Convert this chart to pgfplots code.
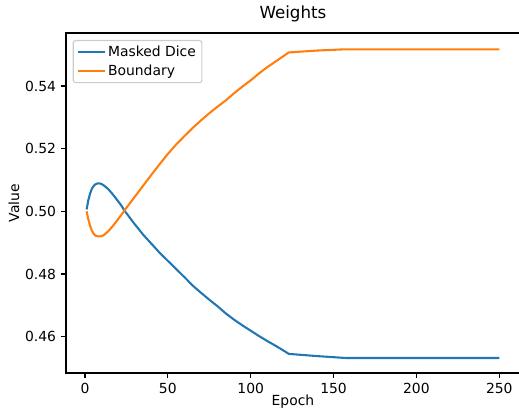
\documentclass[border=0pt]{standalone}
\usepackage{fontspec}
\setmainfont{DejaVu Sans}
\usepackage{pgfplots}
\pgfplotsset{compat=1.18}
\definecolor{mplblue}{RGB}{31,119,180}
\definecolor{mplorange}{RGB}{255,127,14}
\begin{document}
\begin{tikzpicture}
\begin{axis}[
  at={(0pt,0pt)}, anchor=south west,
  scale only axis,
  width=453.9pt, height=340pt,
  xmin=-11.45, xmax=262.45,
  ymin=0.4484, ymax=0.5569,
  xtick={0,50,100,150,200,250},
  ytick={0.46,0.48,0.50,0.52,0.54},
  /pgf/number format/assume math mode=true,
  yticklabel style={xshift=-4.9pt, /pgf/number format/fixed, /pgf/number format/fixed zerofill, /pgf/number format/precision=2},
  tick label style={font=\fontsize{13.9}{16}\selectfont, inner sep=0pt},
  xticklabel style={yshift=-4.9pt},
  tick align=outside,
  major tick length=4.86pt,
  every tick/.style={black, line width=1.1pt},
  axis line style={line width=1.1pt},
  xtick pos=bottom, ytick pos=left,
  scaled y ticks=false,
  title={Weights},
  title style={font=\fontsize{16.7}{19}\selectfont, at={(0.5,1)}, anchor=base, yshift=8.3pt, inner sep=0pt},
  xlabel={Epoch},
  ylabel={Value},
  label style={font=\fontsize{13.9}{16}\selectfont},
  xlabel style={inner sep=0pt, yshift=-1.4pt},
  ylabel style={inner sep=0pt, yshift=5.6pt},
  legend style={at={(0,1)}, anchor=north west, xshift=6.7pt, yshift=-7pt,
    draw=black!20, fill=white, rounded corners=2.5pt, line width=1.1pt,
    font=\fontsize{13.9}{16}\selectfont, inner xsep=4pt, inner ysep=3.5pt,
    row sep=3pt, cells={anchor=west}},
  legend image code/.code={\draw[#1, line width=2.08pt] (0pt,0pt) -- (26.7pt,0pt);},
  legend cell align=left,
]
\addplot[mplblue, line width=2.08pt] coordinates {
(1,0.5006) (2,0.5035) (3,0.5055) (4,0.5070) (5,0.5079) (6,0.5085) (7,0.5088) (8,0.5089) (9,0.5089) (10,0.5087) (11,0.5084)
(12,0.5080) (14,0.5071) (16,0.5059) (18,0.5046) (20,0.5032) (22,0.5018) (24,0.5001)
(26,0.4987) (28,0.4973) (30,0.4959) (32,0.4946) (35,0.4926) (40,0.4897) (45,0.4868)
(50,0.4842) (55,0.4816) (60,0.4790) (65,0.4763) (70,0.4740) (75,0.4718) (80,0.4697)
(85,0.4674) (90,0.4654) (95,0.4636) (100,0.4619) (105,0.4602) (110,0.4586) (115,0.4571)
(120,0.4555) (123,0.4545) (140,0.4538) (157,0.4532) (200,0.4532) (250,0.4532)
};
\addlegendentry{Masked Dice}
\addplot[mplorange, line width=2.08pt] coordinates {
(1,0.5000) (2,0.4975) (3,0.4955) (4,0.4940) (5,0.4930) (6,0.4924) (7,0.4921) (8,0.4920) (9,0.4920) (10,0.4921)
(11,0.4923) (12,0.4927) (14,0.4936) (16,0.4948) (18,0.4961) (20,0.4975) (22,0.4989) (24,0.5004)
(26,0.5018) (28,0.5032) (30,0.5046) (32,0.5060) (35,0.5081) (40,0.5116) (45,0.5150)
(50,0.5183) (55,0.5213) (60,0.5240) (65,0.5266) (70,0.5290) (75,0.5313) (80,0.5334)
(85,0.5354) (90,0.5377) (95,0.5398) (100,0.5418) (105,0.5440) (110,0.5460) (115,0.5478)
(120,0.5496) (123,0.5507) (140,0.5513) (157,0.5517) (200,0.5517) (250,0.5517)
};
\addlegendentry{Boundary}
\end{axis}
\pgfresetboundingbox
\path[use as bounding box] (-66pt,-37pt) rectangle (453pt,373pt);
\end{tikzpicture}
\end{document}
